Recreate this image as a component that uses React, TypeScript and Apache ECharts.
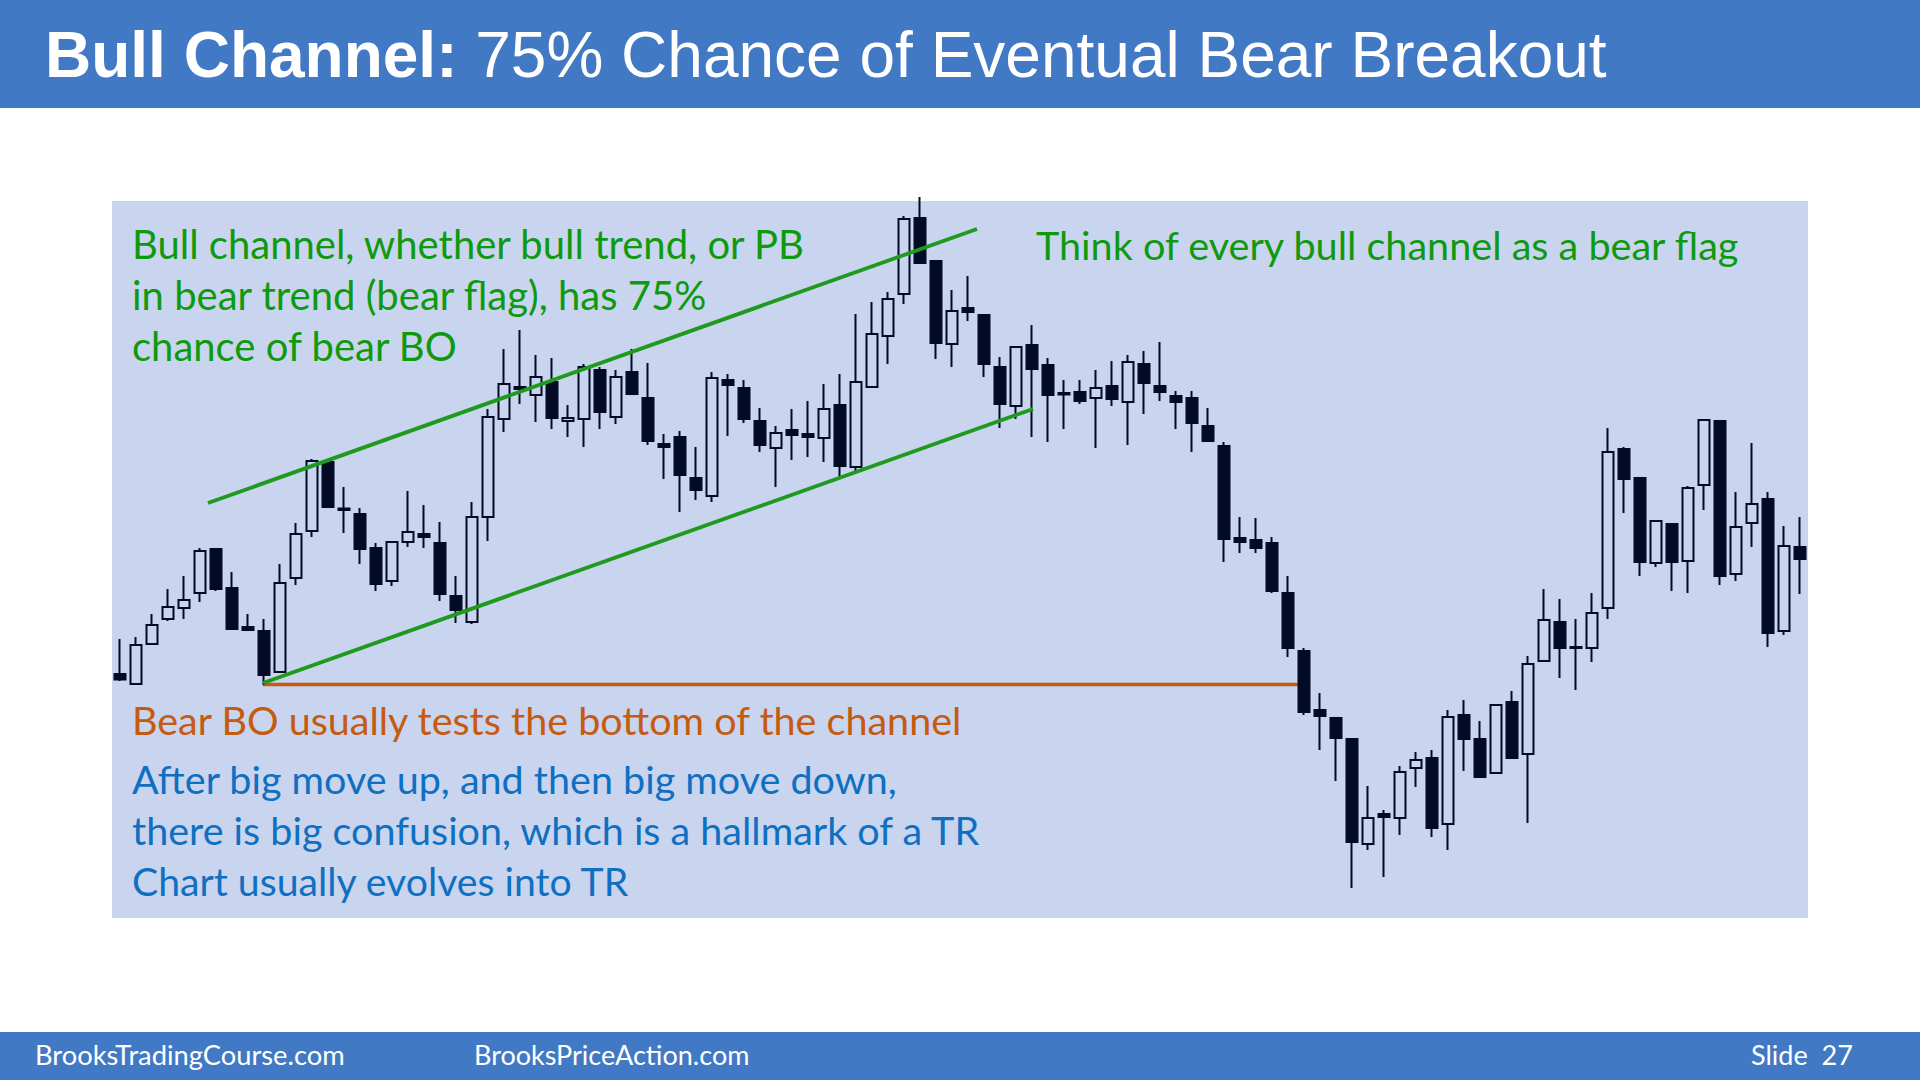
import React, { useEffect, useRef } from "react";
import * as echarts from "echarts";

// OHLC values (price units, higher = up)
const opens = [
  326, 316, 356, 381, 392, 407, 451, 412, 373, 369, 328, 422, 469, 538, 491.5, 486, 452, 419, 458, 466,
  457, 404, 378, 483, 581, 613, 605, 618, 579, 581, 630, 583, 628, 602, 556, 563, 522, 504, 620, 612,
  579, 552, 570, 566, 562, 595, 533, 613, 664, 706, 782, 739, 656, 692, 685, 633, 594, 655, 635, 607,
  608, 602, 614, 598, 636, 614, 604, 602, 574, 554, 462, 460, 457, 407, 349, 290, 282, 261, 156, 186,
  182, 232, 242, 176, 285, 261, 227, 298, 246, 339, 378, 353, 352, 392, 551, 522, 437, 476, 439, 515,
  579, 426, 477, 501, 369, 453,
];
const closes = [
  320.5, 355, 375, 393, 400, 449, 411, 371, 370, 325, 417, 466, 539, 493, 490, 451, 416, 458, 468, 463,
  406, 390, 483, 583, 616, 611, 623, 582, 582, 633, 588, 623, 606, 559, 553, 525, 510, 622, 615, 581,
  555, 567, 565, 563, 591, 534, 618, 666, 701, 781, 737, 657, 689, 688, 636, 596, 653, 631, 605, 605.5,
  599, 612, 601, 638, 617, 608, 598, 577, 559, 461, 458, 452, 409, 352, 288, 284, 262, 158, 182, 183,
  228, 240, 172, 283, 261, 223, 295, 242, 336, 380, 352, 352, 387, 548, 521, 438, 479, 438, 512, 580,
  424, 473, 496, 367, 454, 441,
];
const lows = [
  319, 316, 356, 379, 381, 398, 409, 371, 370, 315, 328, 415, 463, 492, 467, 436, 409, 414, 453, 452,
  399, 377, 376, 459, 568, 596, 578, 571, 563, 553, 571, 576, 606, 555, 521, 488, 500, 498, 564, 577,
  548, 513, 540, 543, 538, 523, 528, 613, 636, 696, 737, 641, 633, 679, 623, 572, 581, 563, 558, 571,
  596, 552, 594, 555, 586, 599, 571, 548, 559, 438, 447, 447, 407, 343, 285, 250, 219, 112, 150, 123,
  165, 213, 163, 150, 229, 223, 227, 241, 177, 339, 322, 310, 338, 381, 487, 424, 433, 409, 407, 490,
  415, 419, 453, 353, 365, 406,
];
const highs = [
  361, 363, 386, 411, 424, 452, 452, 428, 386, 381, 436, 477, 541, 541, 513, 492, 457, 458, 509, 495,
  478, 424, 498, 591, 651, 670, 645, 642, 595, 636, 633, 630, 651, 637, 566, 569, 553, 628, 626, 620,
  592, 574, 591, 599, 616, 626, 686, 698, 708, 784, 803, 739, 710, 724, 685, 643, 653, 675, 642, 620,
  620, 630, 639, 645, 649, 658, 609, 609, 592, 558, 483, 482, 463, 424, 352, 307, 283, 261, 214, 190,
  234, 248, 250, 290, 300, 279, 295, 309, 344, 411, 401, 381, 407, 572, 553, 523, 479, 476, 514, 580,
  580, 508, 557, 508, 474, 483,
];
const barLabels = opens.map((_, i) => String(i + 1));

// Annotation lines in data coordinates: [bar position, price]
const upperChannel = [[5.5, 497], [53.56, 771]];
const lowerChannel = [[8.94, 317], [57.06, 591]];
const channelBottom = [[8.94, 315.5], [73.94, 315.5]];

const titleBold = "Bull Channel:";
const titleRest = " 75% Chance of Eventual Bear Breakout";
const greenNote = ["Bull channel, whether bull trend, or PB", "in bear trend (bear flag), has 75%", "chance of bear BO"];
const greenRight = "Think of every bull channel as a bear flag";
const orangeNote = "Bear BO usually tests the bottom of the channel";
const blueNote = [
  "After big move up, and then big move down,",
  "there is big confusion, which is a hallmark of a TR",
  "Chart usually evolves into TR",
];
const footer = ["BrooksTradingCourse.com", "BrooksPriceAction.com", "Slide  27"];

const BG = "#C9D4EE";
const DARK = "#020A24";
const BAR = "#4279C4";
const GREEN = "#1E9B1E";
const GREEN_TXT = "#0E9A0E";
const ORANGE = "#C55A11";
const BLUE = "#0F6FC0";
const NOTE_FONT = "Lato, 'Open Sans', sans-serif";

export default function App() {
  const ref = useRef<HTMLDivElement>(null);
  useEffect(() => {
    document.body.style.margin = "0";
    const chart = echarts.init(ref.current!, null, { renderer: "svg" });
    const ohlc = opens.map((o, i) => [o, closes[i], lows[i], highs[i]]);
    const txt = (x: number, y: number, text: string, fill: string, size: number, extra: any = {}) => ({
      type: "text",
      x,
      y,
      z: 10,
      style: { text, fill, font: `${size}px ${NOTE_FONT}`, textVerticalAlign: "middle", ...extra },
    });
    chart.setOption({
      animation: false,
      backgroundColor: "#ffffff",
      grid: {
        left: 112,
        top: 201,
        width: 1696,
        height: 717,
        show: true,
        backgroundColor: BG,
        borderWidth: 0,
      },
      xAxis: [
        { type: "category", data: barLabels, show: false, boundaryGap: true },
        { type: "value", min: -0.5, max: 105.5, show: false },
      ],
      yAxis: { type: "value", min: 82, max: 799, show: false, scale: true },
      series: [
        {
          type: "candlestick",
          data: ohlc,
          barWidth: 12,
          clip: false,
          itemStyle: {
            color: BG,
            color0: DARK,
            borderColor: DARK,
            borderColor0: DARK,
            borderWidth: 2,
          },
        },
        {
          type: "line",
          xAxisIndex: 1,
          data: upperChannel,
          symbol: "none",
          lineStyle: { color: GREEN, width: 3.8 },
          z: 5,
        },
        {
          type: "line",
          xAxisIndex: 1,
          data: lowerChannel,
          symbol: "none",
          lineStyle: { color: GREEN, width: 3.8 },
          z: 5,
        },
        {
          type: "line",
          xAxisIndex: 1,
          data: channelBottom,
          symbol: "none",
          lineStyle: { color: ORANGE, width: 3.5 },
          z: 1,
        },
      ],
      graphic: [
        { type: "rect", shape: { x: 0, y: 0, width: 1920, height: 108 }, style: { fill: BAR }, z: 1 },
        { type: "rect", shape: { x: 0, y: 1032, width: 1920, height: 48 }, style: { fill: BAR }, z: 1 },
        {
          type: "text",
          x: 45,
          y: 55,
          z: 10,
          style: {
            text: `{b|${titleBold}}{n|${titleRest}}`,
            textVerticalAlign: "middle",
            rich: {
              b: { fill: "#fff", font: "bold 64px 'Liberation Sans', Arial, sans-serif" },
              n: { fill: "#fff", font: "64px 'Liberation Sans', Arial, sans-serif" },
            },
          },
        },
        txt(132, 244, greenNote[0], GREEN_TXT, 40),
        txt(132, 295, greenNote[1], GREEN_TXT, 40),
        txt(132, 346, greenNote[2], GREEN_TXT, 40),
        txt(1036, 244, greenRight, GREEN_TXT, 39.6),
        txt(132, 719, orangeNote, ORANGE, 39.5),
        txt(132, 778, blueNote[0], BLUE, 39.5),
        txt(132, 829, blueNote[1], BLUE, 39.5),
        txt(132, 880, blueNote[2], BLUE, 39.2),
        txt(35, 1054, footer[0], "#ffffff", 27.3),
        txt(474, 1054, footer[1], "#ffffff", 27),
        txt(1751, 1054, footer[2], "#ffffff", 27),
      ],
    });
    return () => chart.dispose();
  }, []);
  return <div ref={ref} style={{ position: "fixed", left: 0, top: 0, width: 1920, height: 1080 }} />;
}
